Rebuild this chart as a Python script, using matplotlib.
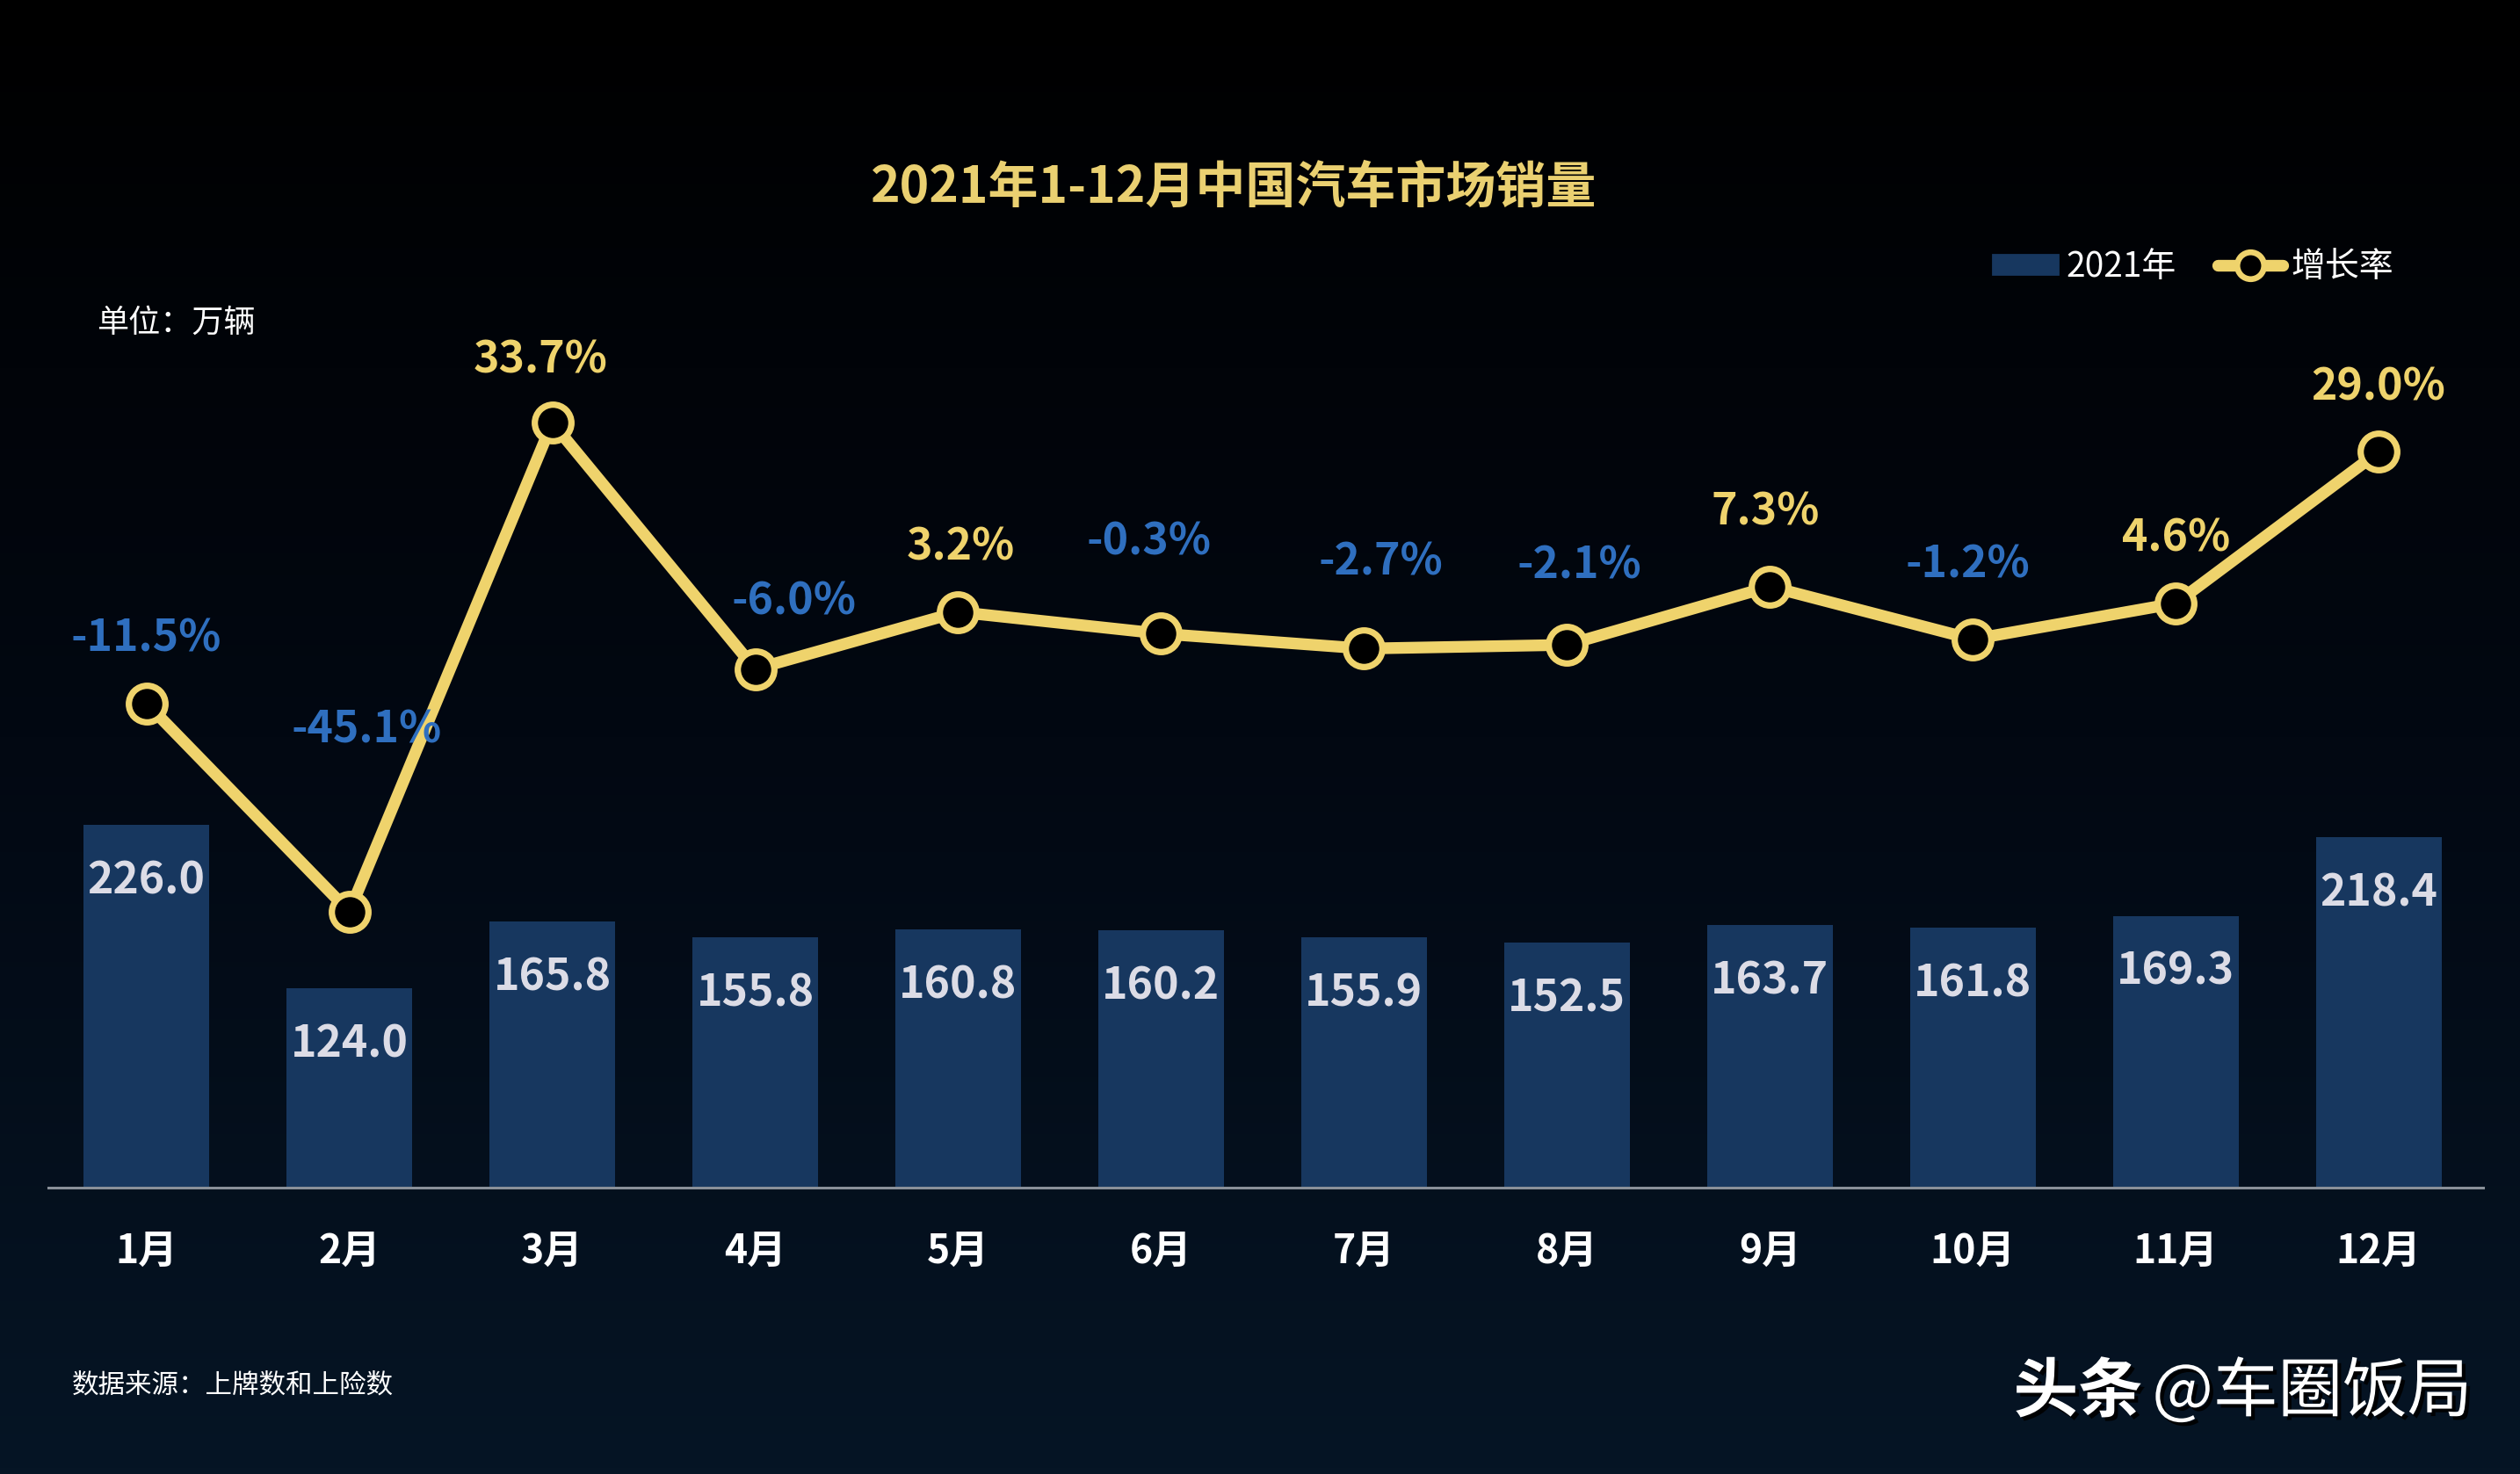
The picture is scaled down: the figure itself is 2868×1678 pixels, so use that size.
from matplotlib import pyplot as plt
from matplotlib.patches import Patch
from matplotlib.lines import Line2D
from matplotlib.colors import LinearSegmentedColormap
import matplotlib.patheffects as pe
import numpy as np

plt.rcParams['font.family'] = ['Noto Sans CJK SC', 'DejaVu Sans']

months = ["1月", "2月", "3月", "4月", "5月", "6月", "7月", "8月", "9月", "10月", "11月", "12月"]
sales = [226.0, 124.0, 165.8, 155.8, 160.8, 160.2, 155.9, 152.5, 163.7, 161.8, 169.3, 218.4]
growth = [-11.5, -45.1, 33.7, -6.0, 3.2, -0.3, -2.7, -2.1, 7.3, -1.2, 4.6, 29.0]

# where each growth label sits relative to its marker (points)
label_offsets = [(0, 26.5), (7, 74.5), (-5, 25.5), (16, 27.5), (1, 26.5), (-5, 37.5),
                 (7, 35.5), (5, 32.5), (-2, 30.5), (-2, 30.5), (0, 26.5), (0, 26.5)]

bar_color = "#17375f"
gold = "#efd36c"
blue = "#2f6fbf"

fig = plt.figure(figsize=(14.34, 8.39), dpi=200)

# background gradient
bg = fig.add_axes([0, 0, 1, 1], zorder=-10)
grad = np.linspace(0, 1, 256).reshape(-1, 1)
cmap = LinearSegmentedColormap.from_list("bg", ["#000000", "#020812", "#061525"])
bg.imshow(grad, aspect="auto", cmap=cmap, extent=[0, 1, 0, 1], origin="upper")
bg.set_axis_off()

ax = fig.add_axes([0.0192, 0.1941, 0.9662, 0.6543])
ax.patch.set_alpha(0)
x = np.arange(len(months))
bars = ax.bar(x, sales, width=0.62, color=bar_color, zorder=2)
ax.set_xlim(-0.483, 11.515)
ax.set_ylim(0, 600)
for s in ["top", "right", "left"]:
    ax.spines[s].set_visible(False)
ax.spines["bottom"].set_color("#8a9099")
ax.spines["bottom"].set_linewidth(1.1)
ax.set_yticks([])
ax.set_xticks(x)
ax.set_xticklabels(months, color="white", fontsize=16, fontweight="bold")
ax.tick_params(axis="x", length=0, pad=18)

for xi, v in zip(x, sales):
    ax.annotate(f"{v:.1f}", (xi, v), xytext=(0, -23), textcoords="offset points",
                ha="center", va="center", color="#dcdce6", fontsize=18, fontweight="bold", zorder=3)

ax2 = ax.twinx()
ax2.set_ylim(-89.6, 65.8)
ax2.set_axis_off()
ax2.plot(x, growth, color=gold, lw=4.8, solid_capstyle="round", zorder=4,
         marker="o", markersize=15, markerfacecolor="black",
         markeredgecolor=gold, markeredgewidth=2.6)

for xi, v, (dx, dy) in zip(x, growth, label_offsets):
    c = gold if v > 0 else blue
    ax2.annotate(f"{v:.1f}%", (xi, v), xytext=(dx, dy), textcoords="offset points",
                 ha="center", va="center", color=c, fontsize=18, fontweight="bold", zorder=5)

fig.text(0.4895, 0.8725, "2021年1-12月中国汽车市场销量", ha="center", va="center",
         color="#ead071", fontsize=20.5, fontweight="bold")

fig.text(0.0384, 0.781, "单位：万辆", ha="left", va="center", color="white", fontsize=13)
fig.text(0.0286, 0.0602, "数据来源：上牌数和上险数", ha="left", va="center", color="white", fontsize=11)

wm = fig.text(0.799, 0.055, "头条", ha="left", va="center", color="white",
              fontsize=26.5, fontweight="bold")
wm2 = fig.text(0.854, 0.055, "@车圈饭局", ha="left", va="center", color="white", fontsize=26.5)
for t in (wm, wm2):
    t.set_path_effects([pe.withSimplePatchShadow(offset=(1.5, -1.5), shadow_rgbFace="black", alpha=0.9)])

handles = [Patch(color=bar_color),
           Line2D([0], [0], color=gold, lw=4.8, marker="o", markersize=11,
                  markerfacecolor="black", markeredgecolor=gold, markeredgewidth=2.4,
                  solid_capstyle="round")]
leg = fig.legend(handles, ["2021年", "增长率"], loc="center right",
                 bbox_to_anchor=(0.962, 0.819), ncol=2, frameon=False,
                 fontsize=14, labelcolor="white", handlelength=1.9, handleheight=0.5,
                 handletextpad=0.25, columnspacing=1.2)

fig.savefig("out.png", dpi=200, facecolor="black")
